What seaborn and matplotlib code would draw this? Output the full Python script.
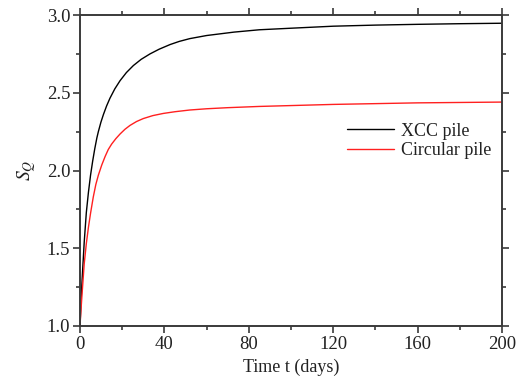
import numpy as np
import pandas as pd
import matplotlib
matplotlib.use("Agg")
import matplotlib.pyplot as plt
from matplotlib.ticker import MultipleLocator
import seaborn as sns

# Data
t_xcc = [0, 0.5, 1, 2, 3, 4, 5, 6, 7, 8, 8.7, 9.9, 11.1, 12.6, 14.2, 16.5, 19, 22, 25.3, 29, 33.2,
         37.5, 42.7, 47, 52, 60, 73, 85, 100, 120, 140, 160, 180, 200]
s_xcc = [1.0, 1.16, 1.30, 1.54, 1.73, 1.86, 1.97, 2.06, 2.14, 2.21, 2.25, 2.31, 2.36, 2.415, 2.465, 2.525, 2.578,
         2.63, 2.675, 2.715, 2.75, 2.78, 2.81, 2.83, 2.848, 2.868, 2.89, 2.905, 2.915, 2.928, 2.935, 2.940, 2.944, 2.947]
t_circ = [0, 0.5, 1, 2, 3, 4, 5, 6.3, 7.5, 8.7, 10.3, 11.9, 13.4, 15, 17, 19, 21.3, 23.7, 26.8, 30, 34.5, 39.5,
          45, 52, 60, 70, 85, 120, 160, 200]
s_circ = [1.0, 1.11, 1.21, 1.40, 1.53, 1.635, 1.725, 1.83, 1.91, 1.97, 2.035, 2.09, 2.135, 2.17, 2.205, 2.235,
          2.265, 2.29, 2.315, 2.334, 2.353, 2.367, 2.378, 2.389, 2.397, 2.404, 2.412, 2.425, 2.435, 2.44]
series_names = ["XCC pile", "Circular pile"]
series_colors = ["black", "#ff2020"]

df = pd.concat([
    pd.DataFrame({"t": t_xcc, "S": s_xcc, "pile": series_names[0]}),
    pd.DataFrame({"t": t_circ, "S": s_circ, "pile": series_names[1]}),
])

sns.set_style("ticks")
plt.rcParams["font.family"] = ["Liberation Serif", "DejaVu Serif"]
plt.rcParams["mathtext.fontset"] = "stix"

fig = plt.figure(figsize=(5.22, 3.83), dpi=100)
ax = fig.add_axes([80 / 522, 57 / 383, 422 / 522, 311 / 383])

sns.lineplot(data=df, x="t", y="S", hue="pile", palette=dict(zip(series_names, series_colors)),
             linewidth=1.0, ax=ax, sort=True, estimator=None)

ax.set_xlim(0, 200)
ax.set_ylim(1.0, 3.0)
ax.xaxis.set_major_locator(MultipleLocator(40))
ax.xaxis.set_minor_locator(MultipleLocator(20))
ax.yaxis.set_major_locator(MultipleLocator(0.5))
ax.yaxis.set_minor_locator(MultipleLocator(0.25))
ax.yaxis.set_major_formatter(matplotlib.ticker.FormatStrFormatter("%.1f"))

spine_color = "#3a3a3a"
for sp in ax.spines.values():
    sp.set_visible(True)
    sp.set_color(spine_color)
    sp.set_linewidth(1.4)

ax.tick_params(which="both", direction="out", top=True, right=True, color=spine_color, width=1.2)
ax.tick_params(which="major", length=5, labelsize=13.5, labelcolor="#222222", pad=2)
ax.tick_params(which="minor", length=3)

ax.set_xlabel("Time t (days)", fontsize=13, color="#222222", labelpad=4)
ax.set_ylabel(r"$S_Q$", fontsize=14, color="#222222", labelpad=6)

leg = ax.legend(loc="center right", bbox_to_anchor=(1.0, 0.595), frameon=False, fontsize=13,
                handlelength=2.6, handletextpad=0.4, labelspacing=0.15, borderaxespad=0.2)
for txt in leg.get_texts():
    txt.set_color("#222222")

fig.savefig("out.png", dpi=100)
